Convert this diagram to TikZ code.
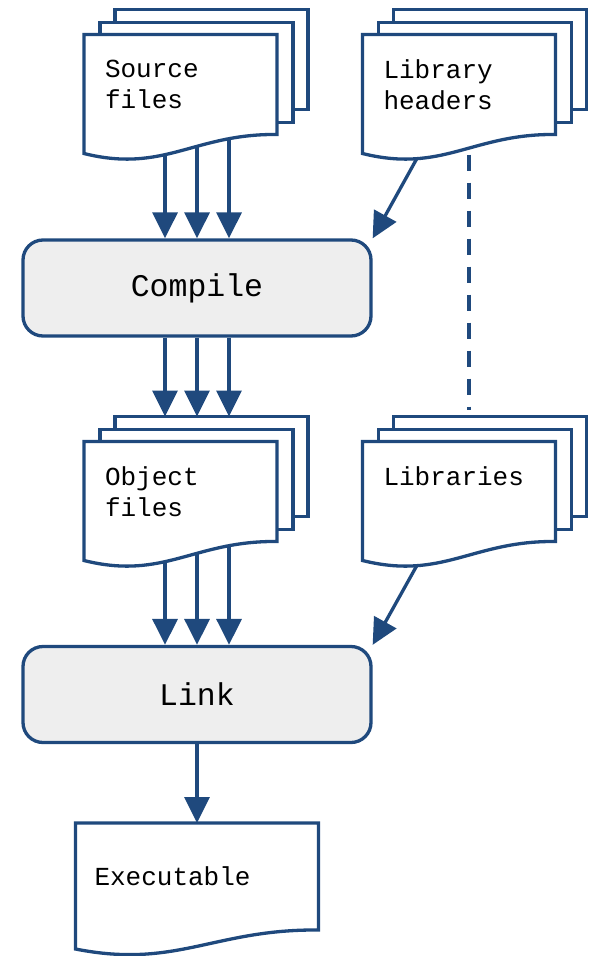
\documentclass[tikz,border=0pt]{standalone}
\usepackage{fontspec}
\newfontfamily\codefont{Liberation Mono}
\usetikzlibrary{arrows.meta,calc}
\definecolor{flowblue}{HTML}{1F497D}
\definecolor{boxgrey}{HTML}{EEEEEE}
\pgfdeclarelayer{back}
\pgfsetlayers{back,main}

\tikzset{
  docnode/.style={draw=none, outer sep=0pt, inner ysep=0pt, inner xsep=21pt,
    minimum width=193pt, minimum height=100pt, text width=151pt, align=left,
    font=\codefont\fontsize{26}{31}\selectfont},
  stepbox/.style={draw=flowblue, fill=boxgrey, line width=3.3pt, rounded corners=20pt,
    minimum width=348pt, minimum height=96pt,
    font=\codefont\fontsize{31.5}{36}\selectfont},
  sheet/.style={draw=flowblue, fill=white, line width=3.3pt},
  flow/.style={draw=flowblue, line width=3.3pt, -{Triangle[length=26pt,width=25pt]}},
  dashline/.style={draw=flowblue, line width=3.3pt, dash pattern=on 16.5pt off 11.5pt},
}

% one page with a wavy lower edge
\newcommand\sheetoutline[1]{%
  \draw[sheet] (#1.north west) -- (#1.north east) -- (#1.south east)
    .. controls ($(#1.south east)!0.43!(#1.south west)+(0,-1)$)
    and ($(#1.south east)!0.585!(#1.south west)+(0,39)$)
    .. ($(#1.south west)+(0,19)$) -- cycle;}

% three stacked pages
\newcommand\sheetstack[1]{%
  \draw[sheet] ($(#1.north west)+(31,-25)$) rectangle ($(#1.south east)+(31,-25)$);
  \draw[sheet] ($(#1.north west)+(16,-12)$) rectangle ($(#1.south east)+(16,-12)$);
  \sheetoutline{#1}}

\begin{document}
\begin{tikzpicture}[x=1pt, y=-1pt]
  \useasboundingbox (0,0) rectangle (592,956);

  % documents and steps
  \node[docnode] (src) at (180.5,84.5) {Source\\files};
  \node[docnode] (hdr) at (459,84.5) {Library\\headers};
  \node[stepbox] (compile) at (197,288) {Compile};
  \node[docnode] (obj) at (180.5,491.5) {Object\\files};
  \node[docnode] (lib) at (459,491.5) {Libraries\\\mbox{}};
  \node[stepbox] (link) at (197,694.5) {Link};
  \node[docnode, minimum width=243pt, minimum height=107pt, text width=205pt,
        inner xsep=19pt] (exe) at (197,876.5) {Executable};

  \begin{pgfonlayer}{back}
    % three parallel flows between the columns
    \foreach \d in {-32,0,32} {
      \draw[flow] ([xshift=\d pt]compile.north |- src.south) -- ([xshift=\d pt]compile.north);
      \draw[flow] ([xshift=\d pt]compile.south) -- ([xshift=\d pt, yshift=25pt]compile.south |- obj.north);
      \draw[flow] ([xshift=\d pt]link.north |- obj.south) -- ([xshift=\d pt]link.north);
    }
    \draw[flow] ([xshift=-41pt, yshift=-22pt]hdr.south) -- (compile.north east);
    \draw[flow] ([xshift=-41pt, yshift=-22pt]lib.south) -- (link.north east);
    \draw[flow] (link.south) -- (exe.north);
    \draw[dashline] ([xshift=10pt, yshift=-20pt]hdr.south) -- ([xshift=10pt, yshift=32pt]lib.north);

    % paper outlines
    \sheetstack{src}
    \sheetstack{hdr}
    \sheetstack{obj}
    \sheetstack{lib}
    \sheetoutline{exe}
  \end{pgfonlayer}
\end{tikzpicture}
\end{document}
